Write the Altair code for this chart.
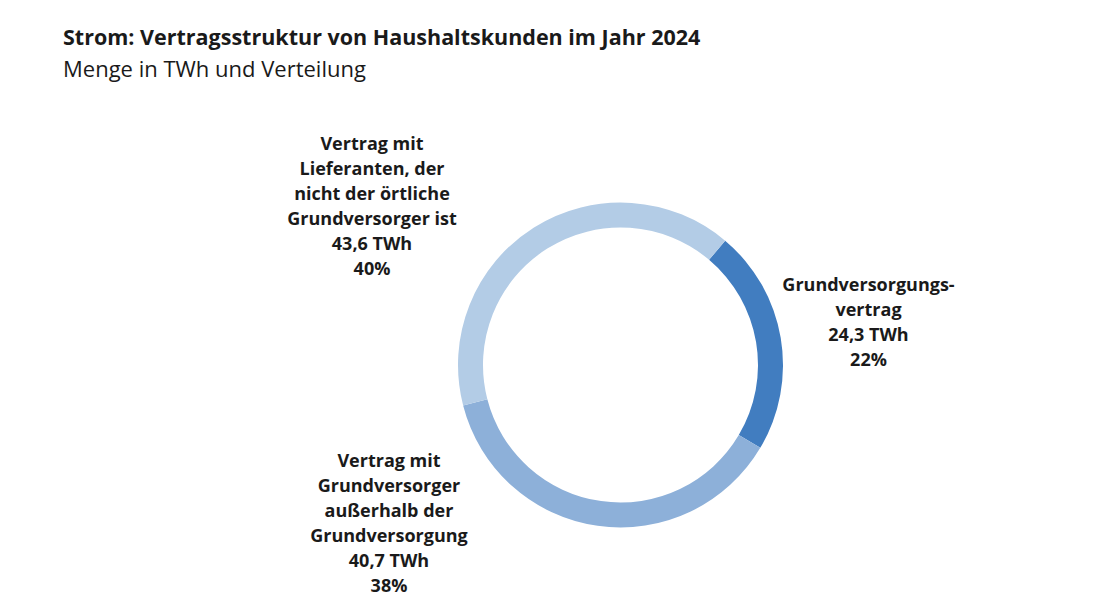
import math
import altair as alt
import pandas as pd

# ---- data ----
categories = [
    "Grundversorgungsvertrag",
    "Vertrag mit Grundversorger außerhalb der Grundversorgung",
    "Vertrag mit Lieferanten, der nicht der örtliche Grundversorger ist",
]
label_lines = [
    ["Grundversorgungs-", "vertrag"],
    ["Vertrag mit", "Grundversorger", "außerhalb der", "Grundversorgung"],
    ["Vertrag mit", "Lieferanten, der", "nicht der örtliche", "Grundversorger ist"],
]
twh = [24.3, 40.7, 43.6]
shares = [22, 38, 40]

# ---- styles / layout ----
colors = ["#417dc0", "#8db0d9", "#b3cce6"]
FONT = "Open Sans"
TEXT = "#1a1a1a"
PAD_TOP = 90
W, H = 1083, 504
CX, CY = 612.5, 267          # donut centre in plot coordinates
R_OUT, R_IN = 162.5, 137.5
START = math.radians(40.1)
label_pos = [(860.5, 188), (381, 364), (364, 47)]   # centre x, first line y

def fmt(v):
    return f"{v:.1f}".replace(".", ",")

df = pd.DataFrame({
    "order": list(range(len(categories))),
    "cat": categories,
    "twh": twh,
    "label": ["\n".join(l + [f"{fmt(v)} TWh", f"{s}%"])
              for l, v, s in zip(label_lines, twh, shares)],
})

base = alt.Chart(df)

ring = base.mark_arc(innerRadius=R_IN, outerRadius=R_OUT).encode(
    theta=alt.Theta("twh:Q", stack=True,
                    scale=alt.Scale(range=[START, START + 2 * math.pi])),
    color=alt.Color("cat:N", scale=alt.Scale(domain=categories, range=colors),
                    legend=None),
    order=alt.Order("order:Q"),
    x=alt.value(CX),
    y=alt.value(CY),
)

labels = []
for i, (lx, ly) in enumerate(label_pos):
    labels.append(
        base.transform_filter(alt.datum.order == i)
        .mark_text(font=FONT, fontSize=18, fontWeight="bold", color=TEXT,
                   lineBreak="\n", lineHeight=25, align="center",
                   baseline="middle")
        .encode(text="label:N", x=alt.value(lx), y=alt.value(ly))
    )

chart = alt.layer(ring, *labels).properties(
    width=W,
    height=H,
    autosize=alt.AutoSizeParams(type="none"),
    padding={"left": 0, "top": PAD_TOP, "right": 0, "bottom": 0},
    background="white",
    title=alt.TitleParams(
        text="Strom: Vertragsstruktur von Haushaltskunden im Jahr 2024",
        subtitle="Menge in TWh und Verteilung",
        anchor="start",
        dx=55,
        font=FONT,
        fontSize=21.5,
        fontWeight="bold",
        color=TEXT,
        subtitleFont=FONT,
        subtitleFontSize=22,
        subtitleFontWeight="normal",
        subtitleColor=TEXT,
        subtitlePadding=11,
        offset=17,
    ),
).configure_view(stroke=None)

chart.save("out.html", embed_options={"renderer": "svg", "actions": False})
